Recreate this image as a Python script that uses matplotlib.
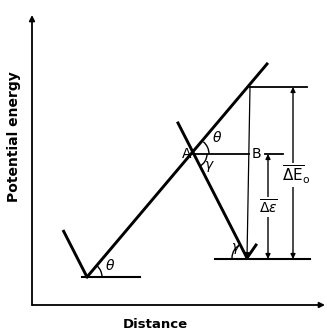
import matplotlib
matplotlib.use("Agg")
import matplotlib.pyplot as plt
from matplotlib.patches import Arc
import numpy as np

W, H = 327, 331
# key points of the schematic (pixel coordinates, y downward)
origin = (32, 305)
x_axis_end = (325, 305)
y_axis_end = (32, 15)
left_min = (87, 277)
left_wall_top = (63, 230)
left_floor_end = (140, 277)
rise_end = (267, 64)
point_A = (193, 154)
desc_start = (178, 123)
right_min = (247, 258)
right_tick_end = (256, 245)
right_floor = (215, 310, 259)
top_pt = (250, 87)
top_line_end = 307
ab_end = 283
dE0_x = 293
de_x = 268

fig = plt.figure(figsize=(W/100, H/100), dpi=100)
ax = fig.add_axes([0, 0, 1, 1])
ax.set_xlim(0, W)
ax.set_ylim(H, 0)
ax.axis('off')

k = 'black'
thick = 2.1
thin = 1.1

# axes arrows
ax.annotate('', xy=x_axis_end, xytext=origin,
            arrowprops=dict(arrowstyle='-|>', color=k, lw=1.3, mutation_scale=8, shrinkA=0, shrinkB=0))
ax.annotate('', xy=y_axis_end, xytext=origin,
            arrowprops=dict(arrowstyle='-|>', color=k, lw=1.3, mutation_scale=8, shrinkA=0, shrinkB=0))

# left well
ax.plot([left_wall_top[0], left_min[0]], [left_wall_top[1], left_min[1]], color=k, lw=thick, solid_capstyle='butt')
ax.plot([left_min[0]-5, left_floor_end[0]], [left_min[1], left_floor_end[1]], color=k, lw=1.5)
ax.plot([left_min[0], rise_end[0]], [left_min[1], rise_end[1]], color=k, lw=thick)

# descending line
ax.plot([desc_start[0], right_min[0]], [desc_start[1], right_min[1]], color=k, lw=thick)
ax.plot([right_min[0], right_tick_end[0]], [right_min[1], right_tick_end[1]], color=k, lw=thick)
ax.plot([right_floor[0], right_floor[1]], [right_floor[2], right_floor[2]], color=k, lw=1.5)

# top horizontal and vertical drop
ax.plot([top_pt[0], top_line_end], [top_pt[1], top_pt[1]], color=k, lw=1.3)
ax.annotate('', xy=(right_min[0], right_min[1]), xytext=top_pt,
            arrowprops=dict(arrowstyle='-|>', color=k, lw=0.9, mutation_scale=7, shrinkA=0, shrinkB=0))

# AB line
ax.plot([point_A[0], 249], [point_A[1], point_A[1]], color=k, lw=1.3)
ax.plot([265, ab_end], [point_A[1], point_A[1]], color=k, lw=1.3)

# double arrows
ax.annotate('', xy=(dE0_x, top_pt[1]), xytext=(dE0_x, right_floor[2]),
            arrowprops=dict(arrowstyle='<|-|>', color=k, lw=1.0, mutation_scale=7, shrinkA=0, shrinkB=0))
ax.annotate('', xy=(de_x, point_A[1]), xytext=(de_x, right_floor[2]),
            arrowprops=dict(arrowstyle='<|-|>', color=k, lw=1.0, mutation_scale=7, shrinkA=0, shrinkB=0))

# angle arcs (angles in data space, y downward)
theta = np.degrees(np.arctan2(left_min[1]-rise_end[1], rise_end[0]-left_min[0]))
gamma = np.degrees(np.arctan2(right_min[1]-desc_start[1], right_min[0]-desc_start[0]))
ax.add_patch(Arc(left_min, 30, 30, theta1=-theta, theta2=0, color=k, lw=1.0))
ax.add_patch(Arc(point_A, 32, 32, theta1=-theta, theta2=0, color=k, lw=1.0))
ax.add_patch(Arc(point_A, 28, 28, theta1=0, theta2=gamma, color=k, lw=1.0))
ax.add_patch(Arc(right_min, 30, 30, theta1=180, theta2=180 + gamma, color=k, lw=1.0))

fs = 10
ax.text(110, 266, r'$\theta$', fontsize=fs, ha='center', va='center')
ax.text(217, 137, r'$\theta$', fontsize=fs, ha='center', va='center')
ax.text(209, 167, r'$\gamma$', fontsize=fs, ha='center', va='center')
ax.text(236, 248, r'$\gamma$', fontsize=fs, ha='center', va='center')
ax.text(191, 154, 'A', fontsize=10, ha='right', va='center')
ax.text(256, 154, 'B', fontsize=10, ha='center', va='center')
ax.text(296, 175, r'$\overline{\Delta \mathrm{E}}_{\mathrm{o}}$', fontsize=11, ha='center', va='center',
        bbox=dict(facecolor='white', edgecolor='none', pad=0.5))
ax.text(268, 207, r'$\overline{\Delta\varepsilon}$', fontsize=10, ha='center', va='center',
        bbox=dict(facecolor='white', edgecolor='none', pad=0.5))

ax.text(14, 137, 'Potential energy', rotation=90, fontsize=10, fontweight='bold', ha='center', va='center')
ax.text(155, 324, 'Distance', fontsize=9.5, fontweight='bold', ha='center', va='center')

fig.savefig('out.png', dpi=100)
